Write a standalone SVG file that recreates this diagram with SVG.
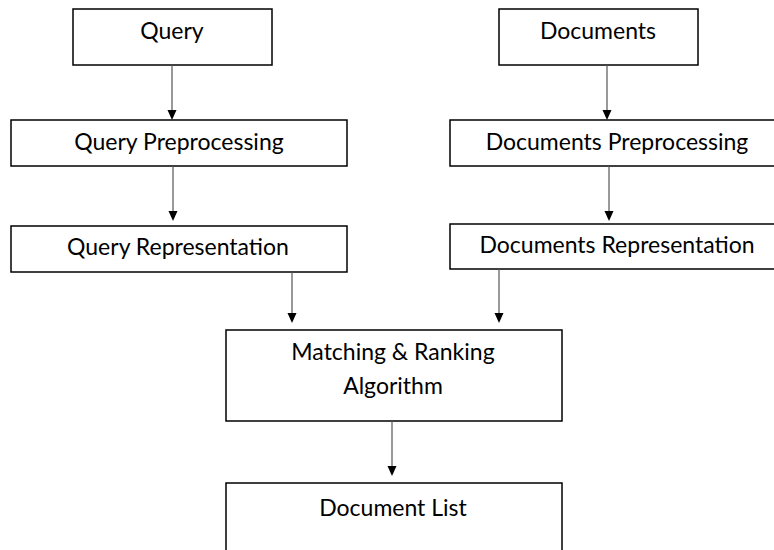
<svg xmlns="http://www.w3.org/2000/svg" width="774" height="550" viewBox="0 0 774 550">
  <style>
    .box { fill: #ffffff; stroke: #000000; stroke-width: 1.5; }
    .label { font-family: Lato, "Open Sans", "Liberation Sans", sans-serif; font-size: 23px; fill: #000000; text-anchor: middle; }
    .edge { stroke: #555555; stroke-width: 1.2; fill: none; }
    .head { fill: #000000; }
  </style>
  <rect width="774" height="550" fill="#ffffff"/>

  <g id="query">
    <rect class="box" x="73" y="9" width="199" height="56"/>
    <text class="label" x="172" y="39">Query</text>
  </g>
  <g id="query-preprocessing">
    <rect class="box" x="11" y="120" width="336" height="46"/>
    <text class="label" x="179" y="150">Query Preprocessing</text>
  </g>
  <g id="query-representation">
    <rect class="box" x="11" y="226" width="336" height="46"/>
    <text class="label" x="178" y="255">Query Representation</text>
  </g>

  <g id="documents">
    <rect class="box" x="499" y="9" width="199" height="56"/>
    <text class="label" x="598" y="39">Documents</text>
  </g>
  <g id="documents-preprocessing">
    <rect class="box" x="450" y="120" width="334" height="46"/>
    <text class="label" x="617" y="150">Documents Preprocessing</text>
  </g>
  <g id="documents-representation">
    <rect class="box" x="450" y="224" width="334" height="45"/>
    <text class="label" x="617" y="253">Documents Representation</text>
  </g>

  <g id="matching-ranking">
    <rect class="box" x="226" y="330" width="336" height="91"/>
    <text class="label" x="393" y="360">Matching &amp; Ranking</text>
    <text class="label" x="393" y="394">Algorithm</text>
  </g>
  <g id="document-list">
    <rect class="box" x="226" y="483" width="336" height="80"/>
    <text class="label" x="393" y="516">Document List</text>
  </g>

  <g id="connectors">
    <line class="edge" x1="172" y1="65" x2="172" y2="112"/>
    <polygon class="head" points="167.5,110 176.5,110 172,120"/>
    <line class="edge" x1="173" y1="166" x2="173" y2="213"/>
    <polygon class="head" points="168.5,211 177.5,211 173,221"/>

    <line class="edge" x1="607" y1="65" x2="607" y2="112"/>
    <polygon class="head" points="602.5,110 611.5,110 607,120"/>
    <line class="edge" x1="609" y1="166" x2="609" y2="213"/>
    <polygon class="head" points="604.5,211 613.5,211 609,221"/>

    <line class="edge" x1="292" y1="272" x2="292" y2="315"/>
    <polygon class="head" points="287.5,313 296.5,313 292,323"/>
    <line class="edge" x1="499" y1="269" x2="499" y2="315"/>
    <polygon class="head" points="494.5,313 503.5,313 499,323"/>

    <line class="edge" x1="392" y1="421" x2="392" y2="468"/>
    <polygon class="head" points="387.5,466 396.5,466 392,476"/>
  </g>
</svg>
